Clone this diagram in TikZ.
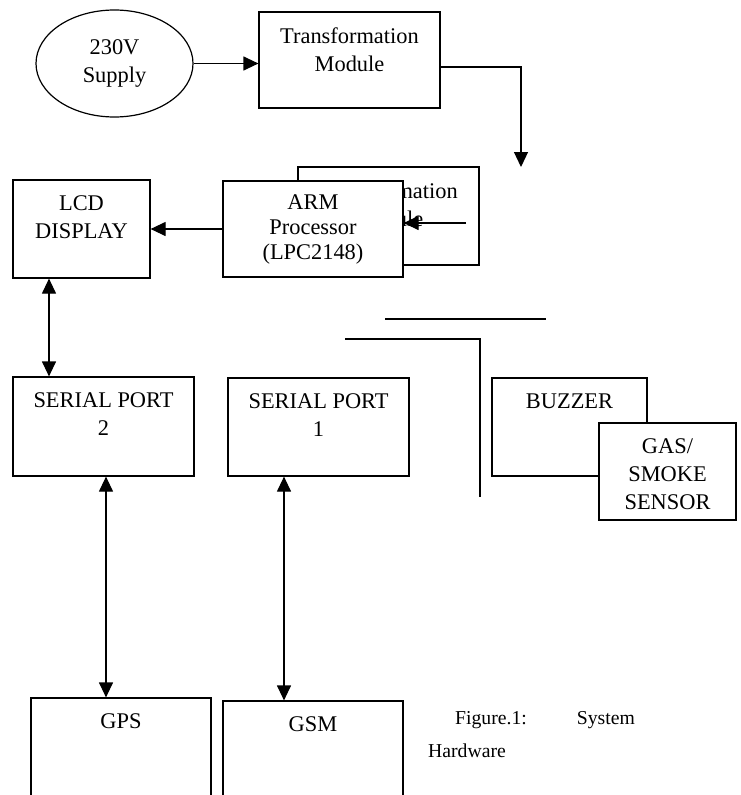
\documentclass[tikz,border=0pt]{standalone}
\usepackage{fontspec}
\setmainfont{Liberation Serif}
\usetikzlibrary{positioning, arrows.meta, shapes.geometric}
\tikzset{
    blktext/.style={anchor=north, yshift=-13pt, align=center, font=\fontsize{22.4}{28}\selectfont},
    blk/.style={draw, line width=1.2pt, fill=white, inner sep=0pt, label={[blktext]north:{#1}}},
    core/.style={draw, line width=1.2pt, fill=white, align=center, font=\fontsize{22.4}{25}\selectfont},
    link/.style={line width=1.2pt, -{Triangle[length=15pt,width=14pt]}},
    dlink/.style={line width=1.2pt, {Triangle[length=15pt,width=14pt]}-{Triangle[length=15pt,width=14pt]}},
    wire/.style={line width=1.2pt}
}

\begin{document}
\begin{tikzpicture}[x=1pt, y=-1pt]
    \useasboundingbox (0,0) rectangle (741,795);

    \node[ellipse, core, inner sep=0pt, minimum width=157pt, minimum height=107pt,
        font=\fontsize{22.4}{28}\selectfont] (supply) at (114.5,63.5) {230V\\Supply};
    \node[blk={Transformation\\Module}, minimum width=181pt, minimum height=96pt] (trans) at (349.5,60) {};
    \node[blk={Transformation\\Module}, minimum width=181pt, minimum height=98pt] (hid) at (388.5,216) {};
    \node[core, minimum width=180pt, minimum height=96pt] (arm) at (313,229) {ARM\\Processor\\(LPC2148)};
    \node[blk={LCD\\DISPLAY}, minimum width=137pt, minimum height=98pt] (lcd) at (81.5,229) {};
    \node[blk={SERIAL PORT\\2}, minimum width=181pt, minimum height=99pt] (sp2) at (103.5,426.5) {};
    \node[blk={SERIAL PORT\\1}, minimum width=181pt, minimum height=98pt] (sp1) at (318.5,427) {};
    \node[blk={BUZZER}, minimum width=155pt, minimum height=98pt] (buzz) at (569.5,427) {};
    \node[blk={GAS/\\SMOKE\\SENSOR}, minimum width=137pt, minimum height=97pt] (gas) at (667.5,471.5) {};
    \node[blk={GPS}, minimum width=180pt, minimum height=112pt] (gps) at (121,754) {};
    \node[blk={GSM}, minimum width=180pt, minimum height=109pt] (gsm) at (313,755.5) {};

    \node[anchor=base west, align=left, inner sep=0pt, font=\fontsize{19.7}{33}\selectfont] (cap) at (428,757)
        {\hspace*{27pt}Figure.1:\hspace{50pt}System\\Hardware};

    \coordinate (drop) at (521,167);
    \coordinate (feed) at (466,223);
    \coordinate (lcdx) at (49,0);
    \coordinate (gpsx) at (106,0);
    \coordinate (gsmx) at (284,0);

    \draw[link] (supply.east) -- (supply.east -| trans.west);
    \draw[link] ([yshift=-7pt]trans.east) -| (drop);
    \draw[link] (feed) -- (feed -| arm.east);
    \draw[link] (arm.west) -- (lcd.east);
    \draw[dlink] (lcd.south -| lcdx) -- (sp2.north -| lcdx);
    \draw[dlink] (sp2.south -| gpsx) -- (gps.north -| gpsx);
    \draw[dlink] (sp1.south -| gsmx) -- (gsm.north -| gsmx);

    \draw[wire] (385,319) -- (546,319);
    \draw[wire] (345,339) -- (480,339) -- (480,497);
\end{tikzpicture}
\end{document}
